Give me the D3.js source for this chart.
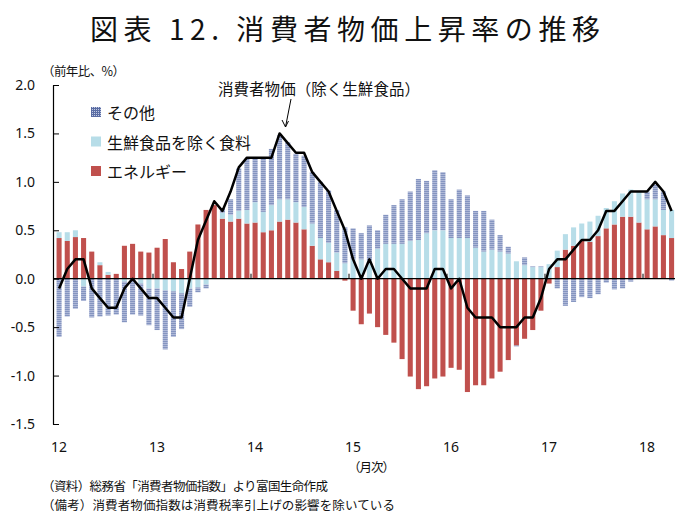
<!DOCTYPE html>
<html>
<head>
<meta charset="utf-8">
<script src="https://cdn.jsdelivr.net/npm/d3@7"></script>
<style>
  body { margin: 0; background: #fff; }
  svg { display: block; }
  text { font-family: "Noto Sans CJK JP", "Noto Sans", sans-serif; fill: #111; }
</style>
</head>
<body>
<svg id="chart" width="675" height="514"></svg>
<script>
// 月次データ 2012年1月〜2018年4月 (前年比、%)
const yearLabels = ["12", "13", "14", "15", "16", "17", "18"];
const yTicks = [-1.5, -1.0, -0.5, 0.0, 0.5, 1.0, 1.5, 2.0];
const seriesNames = ["その他", "生鮮食品を除く食料", "エネルギー"];

// エネルギー
const energy = [
  0.42, 0.39, 0.43, 0.42, 0.28, 0.14, 0.04, 0.05, 0.34, 0.36, 0.28, 0.27,
  0.32, 0.41, 0.17, 0.10, 0.28, 0.56, 0.71, 0.76, 0.62, 0.59, 0.62, 0.57,
  0.58, 0.48, 0.50, 0.59, 0.61, 0.58, 0.51, 0.34, 0.20, 0.17, 0.08, -0.02,
  -0.33, -0.47, -0.36, -0.50, -0.58, -0.66, -0.83, -1.01, -1.14, -1.11, -1.03, -1.01,
  -0.92, -0.94, -1.17, -1.10, -1.10, -1.03, -0.96, -0.84, -0.69, -0.62, -0.53, -0.33,
  -0.05, 0.12, 0.30, 0.34, 0.39, 0.38, 0.44, 0.52, 0.56, 0.64, 0.64, 0.58,
  0.51, 0.54, 0.45, 0.42
];
// 生鮮食品を除く食料
const food = [
  0.06, 0.09, 0.07, -0.08, 0.00, 0.03, 0.03, 0.00, -0.03, 0.00, -0.05, -0.10,
  -0.10, -0.12, -0.13, -0.15, -0.10, -0.09, -0.06, 0.00, 0.06, 0.07, 0.08, 0.14,
  0.21, 0.21, 0.26, 0.23, 0.21, 0.21, 0.23, 0.23, 0.22, 0.20, 0.19, 0.16,
  0.20, 0.20, 0.19, 0.31, 0.36, 0.36, 0.36, 0.39, 0.40, 0.47, 0.50, 0.50,
  0.42, 0.42, 0.42, 0.32, 0.28, 0.30, 0.28, 0.26, 0.18, 0.14, 0.12, 0.12,
  0.15, 0.17, 0.16, 0.19, 0.18, 0.21, 0.21, 0.21, 0.24, 0.24, 0.28, 0.32,
  0.31, 0.28, 0.26, 0.29
];
// その他
const other = [
  -0.60, -0.39, -0.31, -0.15, -0.40, -0.39, -0.38, -0.37, -0.42, -0.37, -0.33, -0.38,
  -0.43, -0.61, -0.47, -0.37, -0.19, -0.05, -0.04, 0.00, 0.05, 0.16, 0.44, 0.53,
  0.45, 0.55, 0.58, 0.66, 0.59, 0.50, 0.53, 0.53, 0.58, 0.54, 0.44, 0.37,
  0.32, 0.27, 0.36, 0.19, 0.30, 0.40, 0.46, 0.51, 0.63, 0.54, 0.62, 0.60,
  0.40, 0.50, 0.44, 0.38, 0.42, 0.31, 0.17, 0.07, -0.01, 0.08, 0.01, 0.01,
  0.00, -0.10, -0.28, -0.24, -0.19, -0.20, -0.16, -0.04, -0.11, -0.10, -0.03, 0.00,
  0.08, 0.15, 0.19, -0.02
];
// 消費者物価(除く生鮮食品)
const core = [
  -0.1, 0.1, 0.2, 0.2, -0.1, -0.2, -0.3, -0.3, -0.1, 0.0, -0.1, -0.2,
  -0.2, -0.3, -0.4, -0.4, 0.0, 0.4, 0.6, 0.8, 0.7, 0.9, 1.15, 1.25,
  1.25, 1.25, 1.25, 1.5, 1.4, 1.3, 1.3, 1.1, 1.0, 0.9, 0.7, 0.5,
  0.2, 0.0, 0.2, 0.0, 0.1, 0.1, 0.0, -0.1, -0.1, -0.1, 0.1, 0.1,
  -0.1, 0.0, -0.3, -0.4, -0.4, -0.4, -0.5, -0.5, -0.5, -0.4, -0.4, -0.2,
  0.1, 0.2, 0.2, 0.3, 0.4, 0.4, 0.5, 0.7, 0.7, 0.8, 0.9, 0.9,
  0.9, 1.0, 0.9, 0.7
];

const months = energy.map((d, i) => i);
const rows = months.map(i => ({ i: i, energy: energy[i], food: food[i], other: other[i] }));

const svg = d3.select("#chart");
const left = 55, step = 98 / 12;

const x = d3.scaleBand()
  .domain(months)
  .range([left, left + months.length * step])
  .paddingInner(0.38)
  .paddingOuter(0.19);
const y = d3.scaleLinear().domain([-1.5, 2.0]).range([424, 85]);
const cx = i => x(i) + x.bandwidth() / 2;

// その他 の網掛け (細かい横縞)
const defs = svg.append("defs");
const pat = defs.append("pattern")
  .attr("id", "pat-other")
  .attr("patternUnits", "userSpaceOnUse")
  .attr("width", 2).attr("height", 2);
pat.append("rect").attr("width", 2).attr("height", 2).attr("fill", "#aeb8d7");
pat.append("rect").attr("y", 1).attr("width", 2).attr("height", 1).attr("fill", "#8494c0");

// 凡例用の格子
const patL = defs.append("pattern")
  .attr("id", "pat-legend")
  .attr("patternUnits", "userSpaceOnUse")
  .attr("width", 2).attr("height", 2);
patL.append("rect").attr("width", 2).attr("height", 2).attr("fill", "#c3cbe3");
patL.append("rect").attr("width", 2).attr("height", 1).attr("fill", "#5a6ca3");
patL.append("rect").attr("width", 1).attr("height", 2).attr("fill", "#5a6ca3");

const colors = { energy: "#c0504d", food: "#b7dde8", other: "url(#pat-other)" };

// タイトル
svg.append("text")
  .attr("x", 90).attr("y", 40)
  .attr("textLength", 510)
  .attr("lengthAdjust", "spacing")
  .style("font-size", "28px")
  .text("図表 12. 消費者物価上昇率の推移");

svg.append("text")
  .attr("x", 42).attr("y", 70)
  .attr("dominant-baseline", "central")
  .attr("textLength", 83)
  .style("font-size", "12.5px")
  .text("（前年比、%）");

// 積み上げ棒
const stacked = d3.stack()
  .keys(["energy", "food", "other"])
  .offset(d3.stackOffsetDiverging)(rows);

svg.append("g").selectAll("g")
  .data(stacked)
  .join("g")
    .attr("fill", d => colors[d.key])
  .selectAll("rect")
  .data(d => d)
  .join("rect")
    .attr("x", d => x(d.data.i))
    .attr("width", x.bandwidth())
    .attr("y", d => y(Math.max(d[0], d[1])))
    .attr("height", d => Math.abs(y(d[0]) - y(d[1])));

// Y軸
const yAxis = svg.append("g")
  .attr("transform", "translate(53,0)")
  .call(d3.axisLeft(y).tickValues(yTicks).tickSize(-6).tickSizeOuter(0)
    .tickPadding(18).tickFormat(d => d.toFixed(1)));
yAxis.select(".domain").attr("stroke", "#000").attr("stroke-width", 1.2);
yAxis.selectAll(".tick line").attr("stroke", "#000");
yAxis.selectAll(".tick text")
  .style("font-family", "'Noto Sans', sans-serif")
  .style("font-size", "14px")
  .attr("fill", "#111");

// ゼロ線と年の目盛り
const y0 = y(0);
svg.append("line")
  .attr("x1", 53).attr("x2", 675)
  .attr("y1", y0).attr("y2", y0)
  .attr("stroke", "#000").attr("stroke-width", 1.2);

svg.append("g").selectAll("line")
  .data(yearLabels.slice(1))
  .join("line")
    .attr("x1", (d, k) => x(12 * (k + 1)) - x.step() * x.paddingInner() / 2)
    .attr("x2", (d, k) => x(12 * (k + 1)) - x.step() * x.paddingInner() / 2)
    .attr("y1", y0).attr("y2", y0 - 5)
    .attr("stroke", "#000");

svg.append("g").selectAll("text")
  .data(yearLabels)
  .join("text")
    .attr("x", (d, k) => cx(12 * k))
    .attr("y", 446)
    .attr("text-anchor", "middle")
    .attr("dominant-baseline", "central")
    .style("font-family", "'Noto Sans', sans-serif")
    .style("font-size", "14px")
    .text(d => d);

// 折れ線
svg.append("path")
  .datum(core)
  .attr("fill", "none")
  .attr("stroke", "#000")
  .attr("stroke-width", 2.5)
  .attr("stroke-linejoin", "round")
  .attr("d", d3.line().x((d, i) => cx(i)).y(d => y(d)));

// 凡例
const legendKeys = ["other", "food", "energy"];
const legendFill = { other: "url(#pat-legend)", food: colors.food, energy: colors.energy };
const legend = svg.append("g").selectAll("g")
  .data(legendKeys)
  .join("g")
    .attr("transform", (d, k) => `translate(91,${112 + k * 29.5})`);
legend.append("rect")
  .attr("x", 0).attr("y", -5)
  .attr("width", 10).attr("height", 10)
  .attr("fill", d => legendFill[d]);
legend.append("text")
  .attr("x", 16).attr("y", 0)
  .attr("dominant-baseline", "central")
  .style("font-size", "16px")
  .text((d, k) => seriesNames[k]);

// 注記
svg.append("text")
  .attr("x", 218).attr("y", 88)
  .attr("dominant-baseline", "central")
  .attr("textLength", 202)
  .style("font-size", "15.5px")
  .text("消費者物価（除く生鮮食品）");
svg.append("path")
  .attr("d", "M291,99 L285.5,127 M282,120 L285.5,127 L288.5,121")
  .attr("fill", "none")
  .attr("stroke", "#000")
  .attr("stroke-width", 1);

// 軸ラベル・出所
svg.append("text")
  .attr("x", 348).attr("y", 466)
  .attr("dominant-baseline", "central")
  .attr("textLength", 47)
  .style("font-size", "12.5px")
  .text("（月次）");
svg.append("text")
  .attr("x", 42).attr("y", 485)
  .attr("dominant-baseline", "central")
  .attr("textLength", 286)
  .style("font-size", "12.5px")
  .text("（資料）総務省「消費者物価指数」より富国生命作成");
svg.append("text")
  .attr("x", 42).attr("y", 504)
  .attr("dominant-baseline", "central")
  .attr("textLength", 353)
  .style("font-size", "12.5px")
  .text("（備考）消費者物価指数は消費税率引上げの影響を除いている");
</script>
</body>
</html>
